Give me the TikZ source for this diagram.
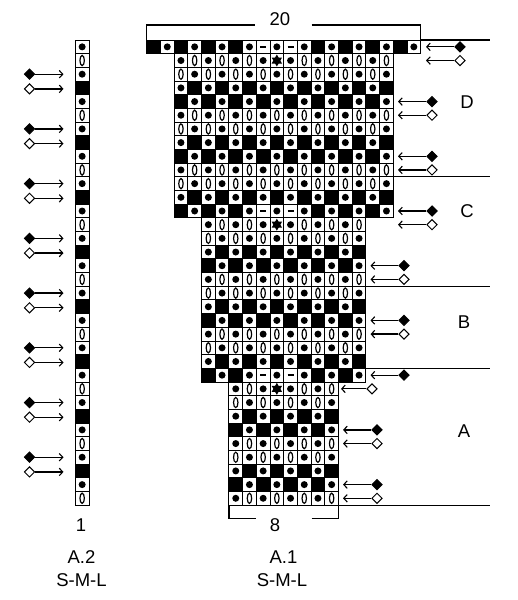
\documentclass[tikz,border=0pt]{standalone}
\usepackage{fontspec}
\setmainfont{Liberation Sans}
\usetikzlibrary{arrows.meta,shapes.geometric}
\begin{document}
\begin{tikzpicture}[x=1pt,y=-1pt,
  gridln/.style={line width=0.9pt},
  secln/.style={line width=1.2pt},
  arr/.style={line width=1.3pt,-{Straight Barb[length=3.5pt,width=7.5pt,line width=1.1pt]}},
  fdia/.style={shape=diamond,draw,fill=black,line width=1pt,minimum width=10.5pt,minimum height=10.5pt,inner sep=0pt},
  odia/.style={fdia,fill=white},
  lab/.style={font=\fontsize{18.5}{20}\selectfont,inner sep=0pt}]
\useasboundingbox[fill=white] (0,0) rectangle (518,600);
\def\cw{13.7}\def\ch{13.68}
\newcommand\kcell[3]{%
  \ifcase#3\relax
    \draw[gridln] (#1,#2) rectangle ++(\cw,\ch);
    \fill (#1+\cw/2,#2+\ch/2) circle (3.5);
  \or
    \draw[gridln] (#1,#2) rectangle ++(\cw,\ch);
    \draw[line width=1.2pt] (#1+\cw/2,#2+\ch/2) ellipse (2.2 and 5.1);
  \or
    \filldraw[gridln] (#1,#2) rectangle ++(\cw,\ch);
  \or
    \draw[gridln] (#1,#2) rectangle ++(\cw,\ch);
    \draw[line width=1.8pt] (#1+\cw/2-3,#2+\ch/2) -- (#1+\cw/2+3,#2+\ch/2);
  \or
    \draw[gridln] (#1,#2) rectangle ++(\cw,\ch);
    \fill (#1+\cw/2,#2+\ch/2) +(90:6) -- +(210:6) -- +(330:6) -- cycle;
    \fill (#1+\cw/2,#2+\ch/2) +(270:6) -- +(30:6) -- +(150:6) -- cycle;
  \fi}
% chart A.1
\foreach \i in {0,...,33}{
  \pgfmathtruncatemacro\kmin{ifthenelse(\i==0,1,ifthenelse(\i<13,3,ifthenelse(\i<25,5,7)))}
  \pgfmathtruncatemacro\kmax{ifthenelse(\i==0,20,ifthenelse(\i<13,18,ifthenelse(\i<25,16,14)))}
  \pgfmathtruncatemacro\rt{mod(\i,4)}
  \pgfmathtruncatemacro\spr{mod(\i,12)}
  \pgfmathsetmacro\py{40+\ch*\i}
  \foreach \k in {\kmin,...,\kmax}{
    \pgfmathsetmacro\px{133+\cw*\k}
    \pgfmathtruncatemacro\odd{mod(\k,2)}
    \ifcase\rt\relax
      \ifnum\odd=1 \def\ctype{2}\ifnum\spr=0 \ifnum\k=9 \def\ctype{3}\fi\ifnum\k=11 \def\ctype{3}\fi\fi\else\def\ctype{0}\fi
    \or
      \ifnum\odd=1 \def\ctype{0}\else\def\ctype{1}\ifnum\spr=1 \ifnum\k=10 \def\ctype{4}\fi\fi\fi
    \or
      \ifnum\odd=1 \def\ctype{1}\else\def\ctype{0}\fi
    \or
      \ifnum\odd=1 \def\ctype{0}\else\def\ctype{2}\fi
    \fi
    \kcell{\px}{\py}{\ctype}
  }
}
% chart A.2
\foreach \i in {0,...,33}{
  \pgfmathtruncatemacro\rt{mod(\i,4)}
  \pgfmathsetmacro\py{40+\ch*\i}
  \ifcase\rt\relax \def\ctype{0}\or \def\ctype{1}\or \def\ctype{0}\or \def\ctype{2}\fi
  \kcell{75.3}{\py}{\ctype}
}
% brackets and section lines
\draw[secln] (146.7,40) -- (146.7,25) -- (255,25);
\draw[secln] (311.7,25) -- (420.7,25) -- (420.7,40) -- (490,40);
\node[lab] (n20) at (280,19) {20};
\draw[secln] (393.3,176.8) -- (490,176.8);
\draw[secln] (366,286.2) -- (490,286.2);
\draw[secln] (366,368.5) -- (490,368.5);
\draw[secln] (338.5,505.1) -- (490,505.1);
\draw[secln] (228.9,505.1) -- (228.9,518.3) -- (256,518.3);
\draw[secln] (311.7,518.3) -- (338.5,518.3) -- (338.5,505.1);
\node[lab] (n8) at (275,525) {8};
% right arrows
\foreach \r/\tx/\dx/\s in {0/426/460/fdia,1/426/460/odia,4/398/432/fdia,5/398/432/odia,
  8/398/432/fdia,9/398/432/odia,12/398/432/fdia,13/398/432/odia,16/370.5/404/fdia,
  17/370.5/404/odia,20/370.5/404/fdia,21/370.5/404/odia,24/370.5/404/fdia,25/341/372/odia,
  28/343/377/fdia,29/343/377/odia,32/343/377/fdia,33/343/377/odia}{
  \pgfmathsetmacro\py{40+\ch*(\r+0.5)}
  \node[\s] (dR\r) at (\dx,\py) {};
  \coordinate (tR\r) at (\tx,\py);
  \draw[arr] (dR\r.west) -- (tR\r);
}
% left arrows
\foreach \j in {0,...,7}{
  \pgfmathsetmacro\pya{40+\ch*(4*\j+2.5)}
  \pgfmathsetmacro\pyb{41+\ch*(4*\j+3.5)}
  \node[fdia] (dLa\j) at (29.5,\pya) {};
  \coordinate (tLa\j) at (63.5,\pya);
  \draw[arr] (dLa\j.east) -- (tLa\j);
  \node[odia] (dLb\j) at (29.5,\pyb) {};
  \coordinate (tLb\j) at (63.5,\pyb);
  \draw[arr] (dLb\j.east) -- (tLb\j);
}
% labels
\node[lab] (lD) at (467,102) {D};
\node[lab] (lC) at (467,211) {C};
\node[lab] (lB) at (464,322) {B};
\node[lab] (lA) at (464,431) {A};
\node[lab] (n1) at (81,525) {1};
\node[lab] (a2) at (81.5,557) {A.2};
\node[lab] (s2) at (81.5,580) {S-M-L};
\node[lab] (a1) at (283.5,557) {A.1};
\node[lab] (s1) at (282,580) {S-M-L};
\end{tikzpicture}
\end{document}
